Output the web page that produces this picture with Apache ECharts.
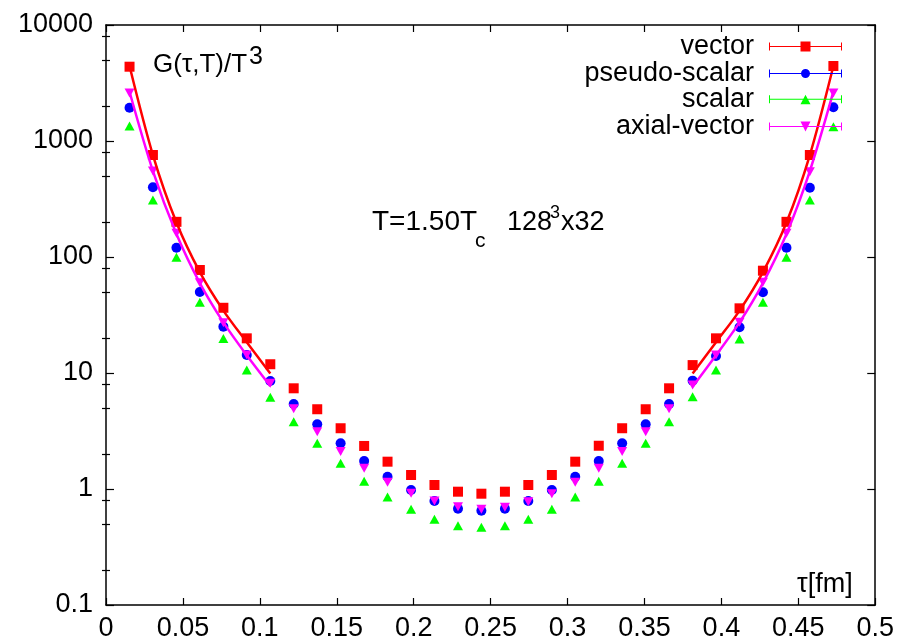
<!DOCTYPE html>
<html>
<head>
<meta charset="utf-8">
<script src="https://cdn.jsdelivr.net/npm/echarts@6/dist/echarts.min.js"></script>
<style>
html,body{margin:0;padding:0;background:#fff;}
#chart{width:897px;height:643px;}
</style>
</head>
<body>
<div id="chart"></div>
<script>
// ---- data ----
const tau = [0.0153, 0.0305, 0.0458, 0.0610, 0.0763, 0.0915, 0.1068, 0.1220, 0.1373, 0.1525,
  0.1678, 0.1830, 0.1983, 0.2135, 0.2288, 0.2440, 0.2593, 0.2745, 0.2898, 0.3050,
  0.3203, 0.3355, 0.3508, 0.3660, 0.3813, 0.3965, 0.4118, 0.4270, 0.4423, 0.4575, 0.4728];

const vector = [4370, 757, 201, 77.3, 36.5, 19.9, 11.9, 7.38, 4.87, 3.34,
  2.35, 1.72, 1.32, 1.083, 0.948, 0.911, 0.948, 1.083, 1.32, 1.72,
  2.36, 3.34, 4.87, 7.38, 11.7, 19.9, 36.1, 76.2, 201, 757, 4430];

const pseudoScalar = [1936, 399, 120, 49.9, 25.1, 14.3, 8.53, 5.40, 3.61, 2.48,
  1.74, 1.277, 0.980, 0.788, 0.676, 0.650, 0.676, 0.788, 0.980, 1.277,
  1.74, 2.48, 3.61, 5.40, 8.59, 14.0, 24.8, 49.6, 120, 396, 1952];

const scalar = [1347, 310, 99.4, 40.7, 19.8, 10.6, 6.17, 3.80, 2.48, 1.666,
  1.165, 0.853, 0.668, 0.548, 0.483, 0.468, 0.483, 0.548, 0.668, 0.853,
  1.165, 1.666, 2.48, 3.80, 6.25, 10.6, 19.6, 40.7, 99.4, 310, 1328];

const axialVector = [2594, 551, 160, 60.0, 27.1, 14.3, 8.15, 4.92, 3.12, 2.11,
  1.51, 1.142, 0.918, 0.788, 0.704, 0.668, 0.695, 0.777, 0.911, 1.142,
  1.51, 2.11, 3.12, 4.92, 7.88, 14.3, 27.4, 60.5, 160, 544, 2590];

// curves drawn through the first and last seven points (null = no curve)
const vectorCurve = [4433, 757, 198, 74, 34.5, 18.4, 9.9, null, null, null,
  null, null, null, null, null, null, null, null, null, null,
  null, null, null, null, 9.9, 18.4, 34.5, 74, 198, 757, 4433];
const axialCurve = [2660, 551, 158, 59.6, 27.3, 14.2, 7.7, null, null, null,
  null, null, null, null, null, null, null, null, null, null,
  null, null, null, null, 7.6, 14.2, 27.3, 59.6, 158, 551, 2660];

const seriesNames = ['vector', 'pseudo-scalar', 'scalar', 'axial-vector'];
const xTickValues = [0, 0.05, 0.1, 0.15, 0.2, 0.25, 0.3, 0.35, 0.4, 0.45, 0.5];
const yMajorTicks = [0.1, 1, 10, 100, 1000, 10000];
const yMinorTicks = [0.2, 0.5, 0.8, 2, 5, 8, 20, 50, 80, 200, 500, 800, 2000, 5000, 8000];

// ---- chart ----
const FONT = "'Liberation Sans', Arial, Helvetica, sans-serif";
const BLACK = '#000';
const colors = ['#ff0000', '#0000ff', '#00ff00', '#ff00ff'];

function pairs(ys) {
  return ys.map((v, i) => [tau[i], v == null ? '-' : v]);
}

const bar = 'M0,4.5H73V5.5H0Z M0,1H1V9H0Z M72,1H73V9H72Z';
const legendIcons = [
  'path://' + bar + ' M31.5,0H41.5V10H31.5Z',
  'path://' + bar + ' M32,5A4.5,4.5 0 1,1 41,5A4.5,4.5 0 1,1 32,5Z',
  'path://' + bar + ' M31.5,10L36.5,0.5L41.5,10Z',
  'path://' + bar + ' M31.5,0L41.5,0L36.5,10Z'
];
const legendCenters = [44, 71, 97, 124];

const chart = echarts.init(document.getElementById('chart'), null, {renderer: 'canvas'});

const fmt = v => String(+(+v).toPrecision(6));

const option = {
  animation: false,
  backgroundColor: '#fff',
  textStyle: {fontFamily: FONT},
  grid: {left: 106, right: 21, top: 25, bottom: 38, containLabel: false},
  legend: seriesNames.map((name, i) => ({
    data: [{name: name, icon: legendIcons[i]}],
    orient: 'vertical',
    align: 'right',
    right: 55,
    top: legendCenters[i] - 11,
    padding: 0,
    itemWidth: 73,
    itemHeight: 10,
    selectedMode: false,
    textStyle: {fontSize: 27, color: BLACK, fontFamily: FONT, lineHeight: 10, padding: [0, 10, 0, 0]}
  })),
  xAxis: [
    {
      type: 'value', min: 0, max: 0.5, interval: 0.05, position: 'bottom',
      axisLine: {show: true, onZero: false, lineStyle: {color: BLACK, width: 1.5}},
      axisTick: {show: true, inside: true, length: 7, lineStyle: {color: BLACK, width: 1.2}},
      axisLabel: {show: true, color: BLACK, fontSize: 27, fontFamily: FONT, margin: 10, formatter: fmt},
      splitLine: {show: false}
    },
    {
      type: 'value', min: 0, max: 0.5, interval: 0.05, position: 'top',
      axisLine: {show: true, onZero: false, lineStyle: {color: BLACK, width: 1.5}},
      axisTick: {show: true, inside: true, length: 7, lineStyle: {color: BLACK, width: 1.2}},
      axisLabel: {show: false},
      splitLine: {show: false}
    }
  ],
  yAxis: [
    {
      type: 'log', logBase: 10, min: 0.1, max: 10000, position: 'left',
      axisLine: {show: true, onZero: false, lineStyle: {color: BLACK, width: 1.5}},
      axisTick: {show: true, inside: true, length: 8, customValues: yMajorTicks, lineStyle: {color: BLACK, width: 1.2}},
      axisLabel: {show: true, color: BLACK, fontSize: 27, fontFamily: FONT, margin: 13, customValues: yMajorTicks, formatter: fmt},
      splitLine: {show: false}
    },
    {
      type: 'log', logBase: 10, min: 0.1, max: 10000, position: 'left',
      axisLine: {show: false},
      axisTick: {show: true, inside: true, length: 4, customValues: yMinorTicks, lineStyle: {color: BLACK, width: 1.2}},
      axisLabel: {show: false},
      splitLine: {show: false}
    },
    {
      type: 'log', logBase: 10, min: 0.1, max: 10000, position: 'right',
      axisLine: {show: true, onZero: false, lineStyle: {color: BLACK, width: 1.5}},
      axisTick: {show: true, inside: true, length: 8, customValues: yMajorTicks, lineStyle: {color: BLACK, width: 1.2}},
      axisLabel: {show: false},
      splitLine: {show: false}
    },
    {
      type: 'log', logBase: 10, min: 0.1, max: 10000, position: 'right',
      axisLine: {show: false},
      axisTick: {show: true, inside: true, length: 4, customValues: yMinorTicks, lineStyle: {color: BLACK, width: 1.2}},
      axisLabel: {show: false},
      splitLine: {show: false}
    }
  ],
  series: [
    {
      name: seriesNames[0], type: 'scatter', data: pairs(vector),
      symbol: 'rect', symbolSize: 10, itemStyle: {color: colors[0], opacity: 1}, z: 2
    },
    {
      name: seriesNames[1], type: 'scatter', data: pairs(pseudoScalar),
      symbol: 'circle', symbolSize: 10, itemStyle: {color: colors[1], opacity: 1}, z: 2
    },
    {
      name: seriesNames[2], type: 'scatter', data: pairs(scalar),
      symbol: 'triangle', symbolSize: [10, 9], itemStyle: {color: colors[2], opacity: 1}, z: 2
    },
    {
      name: seriesNames[3], type: 'scatter', data: pairs(axialVector),
      symbol: 'triangle', symbolRotate: 180, symbolSize: [10, 9], itemStyle: {color: colors[3], opacity: 1}, z: 2
    },
    {
      name: 'vector-curve', type: 'line', data: pairs(vectorCurve), showSymbol: false, symbol: 'none',
      smooth: 0.3, connectNulls: false, lineStyle: {color: colors[0], width: 2.5}, itemStyle: {color: colors[0]}, z: 3
    },
    {
      name: 'axial-curve', type: 'line', data: pairs(axialCurve), showSymbol: false, symbol: 'none',
      smooth: 0.3, connectNulls: false, lineStyle: {color: colors[3], width: 2.5}, itemStyle: {color: colors[3]}, z: 3
    }
  ],
  graphic: [
    {type: 'text', left: 153, top: 52, silent: true,
      style: {text: 'G(τ,T)/T', font: '26px ' + FONT, fill: BLACK}},
    {type: 'text', left: 249, top: 45, silent: true,
      style: {text: '3', font: '25px ' + FONT, fill: BLACK}},
    {type: 'text', left: 372, top: 208, silent: true,
      style: {text: 'T=1.50T', font: '28px ' + FONT, fill: BLACK}},
    {type: 'text', left: 475, top: 231, silent: true,
      style: {text: 'c', font: '21px ' + FONT, fill: BLACK}},
    {type: 'text', left: 507, top: 209, silent: true,
      style: {text: '128', font: '27px ' + FONT, fill: BLACK}},
    {type: 'text', left: 550, top: 204, silent: true,
      style: {text: '3', font: '18px ' + FONT, fill: BLACK}},
    {type: 'text', left: 561, top: 209, silent: true,
      style: {text: 'x32', font: '27px ' + FONT, fill: BLACK}},
    {type: 'text', left: 797, top: 571, silent: true,
      style: {text: 'τ[fm]', font: '27px ' + FONT, fill: BLACK}}
  ]
};

chart.setOption(option);
</script>
</body>
</html>
